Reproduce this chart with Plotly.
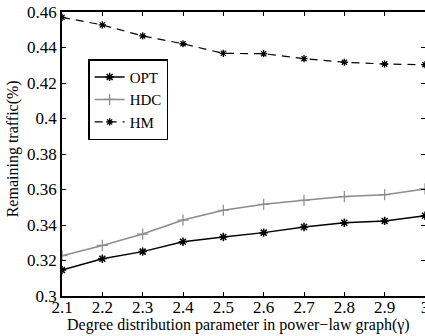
import plotly.graph_objects as go

gamma = [2.1, 2.2, 2.3, 2.4, 2.5, 2.6, 2.7, 2.8, 2.9, 3.0]
opt = [0.3146, 0.3210, 0.3250, 0.3306, 0.3332, 0.3357, 0.3389, 0.3413, 0.3423, 0.3452]
hdc = [0.3227, 0.3285, 0.3349, 0.3428, 0.3483, 0.3517, 0.3539, 0.3560, 0.3571, 0.3603]
hm = [0.4570, 0.4527, 0.4465, 0.4421, 0.4367, 0.4365, 0.4337, 0.4317, 0.4307, 0.4303]
xticks = [2.1, 2.2, 2.3, 2.4, 2.5, 2.6, 2.7, 2.8, 2.9, 3.0]
xticklabels = ["2.1", "2.2", "2.3", "2.4", "2.5", "2.6", "2.7", "2.8", "2.9", "3"]
yticks = [0.3, 0.32, 0.34, 0.36, 0.38, 0.4, 0.42, 0.44, 0.46]
yticklabels = ["0.3", "0.32", "0.34", "0.36", "0.38", "0.4", "0.42", "0.44", "0.46"]

font = "Liberation Serif"
fig = go.Figure()
fig.add_trace(go.Scatter(x=gamma, y=opt, name="OPT", mode="lines+markers",
                         line=dict(color="black", width=1.5),
                         marker=dict(symbol="asterisk-open", size=7, color="black",
                                     line=dict(width=1.5, color="black"))))
fig.add_trace(go.Scatter(x=gamma, y=hdc, name="HDC", mode="lines+markers",
                         line=dict(color="#8c8c8c", width=1.5),
                         marker=dict(symbol="cross-thin-open", size=8, color="#8c8c8c",
                                     line=dict(width=1.2, color="#8c8c8c"))))
fig.add_trace(go.Scatter(x=gamma, y=hm, name="HM", mode="lines+markers",
                         line=dict(color="black", width=1.2, dash="8px,6px"),
                         marker=dict(symbol="asterisk-open", size=6, color="black",
                                     line=dict(width=1.3, color="black"))))

fig.update_layout(
    width=425, height=336,
    margin=dict(l=62, r=0, t=12, b=40, autoexpand=False),
    paper_bgcolor="white", plot_bgcolor="white",
    font=dict(family=font, size=16, color="black"),
    showlegend=True,
    legend=dict(x=0.072, y=0.834, xanchor="left", yanchor="top",
                bgcolor="white", bordercolor="black", borderwidth=1.5,
                font=dict(family=font, size=15), tracegroupgap=0,
                itemwidth=30),
    xaxis=dict(range=[2.1, 3.0], tickvals=xticks, ticktext=xticklabels,
               ticks="inside", ticklen=4, tickcolor="black", mirror="ticks",
               showline=True, linecolor="black", linewidth=1.5, showgrid=False,
               zeroline=False, tickfont=dict(family=font, size=17), automargin=False,
               ticklabeloverflow="allow", ticklabelstandoff=-5),
    yaxis=dict(range=[0.3, 0.46], tickvals=yticks, ticktext=yticklabels,
               ticks="inside", ticklen=4, tickcolor="black", mirror="ticks",
               showline=True, linecolor="black", linewidth=1.5, showgrid=False,
               zeroline=False, tickfont=dict(family=font, size=17), automargin=False,
               ticklabeloverflow="allow"),
    annotations=[
        dict(text="Degree distribution parameter in power\u2212law graph(\u03b3)",
             xref="paper", yref="paper", x=0.485, y=-0.062, xanchor="center", yanchor="top",
             showarrow=False, font=dict(family=font, size=16)),
        dict(text="Remaining traffic(%)", xref="paper", yref="paper",
             x=-0.135, y=0.52, xanchor="center", yanchor="middle", textangle=-90,
             showarrow=False, font=dict(family=font, size=16)),
    ],
)
fig.write_html("out.html", config={"displayModeBar": False},
               post_script="document.body.style.margin='0';")
